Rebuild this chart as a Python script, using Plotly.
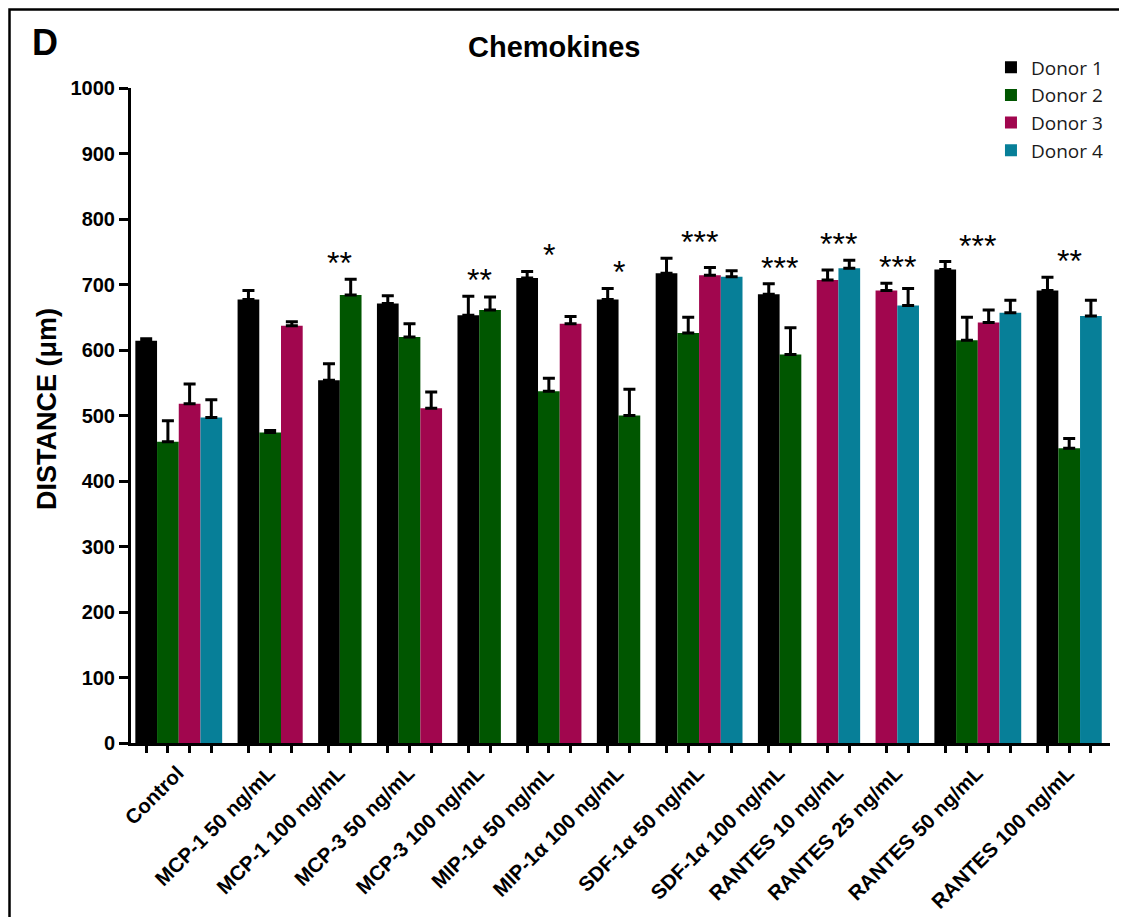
import plotly.graph_objects as go

# ---------------- data ----------------
categories = ["Control", "MCP-1 50 ng/mL", "MCP-1 100 ng/mL", "MCP-3 50 ng/mL",
              "MCP-3 100 ng/mL", "MIP-1α 50 ng/mL", "MIP-1α 100 ng/mL",
              "SDF-1α 50 ng/mL", "SDF-1α 100 ng/mL", "RANTES 10 ng/mL",
              "RANTES 25 ng/mL", "RANTES 50 ng/mL", "RANTES 100 ng/mL"]
donor_names = ["Donor 1", "Donor 2", "Donor 3", "Donor 4"]

donor1 = [614, 677, 554, 671, 653, 710, 677, 717, 685, None, None, 723, 691]
donor1_err = [3, 14, 25, 12, 29, 10, 17, 23, 16, None, None, 12, 20]
donor2 = [460, 474, 684, 620, 661, 537, 500, 626, 593, None, None, 615, 450]
donor2_err = [32, 3, 24, 20, 20, 20, 40, 24, 41, None, None, 35, 15]
donor3 = [518, 637, None, 511, None, 640, None, 714, None, 707, 691, 642, None]
donor3_err = [30, 6, None, 25, None, 11, None, 12, None, 15, 11, 19, None]
donor4 = [497, None, None, None, None, None, None, 712, None, 725, 668, 657, 652]
donor4_err = [27, None, None, None, None, None, None, 9, None, 12, 26, 19, 24]
significance = ["", "", "**", "", "**", "*", "*", "***", "***", "***", "***", "***", "**"]

y_ticks = [0, 100, 200, 300, 400, 500, 600, 700, 800, 900, 1000]

# ---------------- styling ----------------
colors = ["#000000", "#005600", "#A1064E", "#077F98"]
FONT = "Arial, Liberation Sans, sans-serif"
BAR_W = 1.0
GAP = 0.71

values = [donor1, donor2, donor3, donor4]
errors = [donor1_err, donor2_err, donor3_err, donor4_err]

# positions of bars (Prism-style: missing donors are skipped, groups separated by a gap)
pos = [[None] * len(categories) for _ in values]
group_centers = []
group_tops = []
cursor = 0.0
for g in range(len(categories)):
    xs = []
    tops = []
    for d in range(len(values)):
        v = values[d][g]
        if v is None:
            continue
        pos[d][g] = cursor + BAR_W / 2
        xs.append(cursor + BAR_W / 2)
        tops.append(v + (errors[d][g] or 0))
        cursor += BAR_W
    group_centers.append(sum(xs) / len(xs))
    group_tops.append(max(tops))
    cursor += GAP
end = cursor - GAP

fig = go.Figure()
all_bar_x = []
for d in range(len(values)):
    xs = [pos[d][g] for g in range(len(categories)) if values[d][g] is not None]
    ys = [values[d][g] for g in range(len(categories)) if values[d][g] is not None]
    es = [errors[d][g] for g in range(len(categories)) if values[d][g] is not None]
    all_bar_x += xs
    fig.add_trace(go.Bar(
        x=xs, y=ys, width=BAR_W, name=donor_names[d],
        marker=dict(color=colors[d], line=dict(width=0)),
        error_y=dict(type="data", symmetric=False, array=es,
                     arrayminus=[0] * len(es), color="black",
                     thickness=3, width=6),
    ))

# invisible trace to carry the per-bar tick axis
fig.add_trace(go.Scatter(x=sorted(all_bar_x), y=[0] * len(all_bar_x), xaxis="x2",
                         mode="markers", marker=dict(opacity=0),
                         showlegend=False, hoverinfo="skip"))

xr = [-0.2, end + 0.38]

annotations = []
for g, s in enumerate(significance):
    if s:
        annotations.append(dict(x=group_centers[g], y=group_tops[g], xref="x", yref="y",
                                text=s, showarrow=False, yanchor="bottom", yshift=-4,
                                font=dict(family=FONT, size=32, color="black")))

annotations += [
    dict(x=-0.0858, y=0.51, xref="paper", yref="paper", text="DISTANCE (μm)",
         textangle=-90, showarrow=False, xanchor="center", yanchor="middle",
         font=dict(family=FONT, size=27, color="black", weight="bold")),
    dict(x=-0.103, y=1.07, xref="paper", yref="paper", text="D",
         showarrow=False, xanchor="left", yanchor="middle",
         font=dict(family=FONT, size=36, color="black", weight="bold")),
    dict(x=0.4317, y=1.0629, xref="paper", yref="paper", text="Chemokines",
         showarrow=False, xanchor="center", yanchor="middle",
         font=dict(family=FONT, size=29, color="black", weight="bold")),
]

fig.update_layout(
    width=1127, height=917,
    margin=dict(l=123, r=25, t=80, b=182, autoexpand=False),
    paper_bgcolor="white", plot_bgcolor="white",
    barmode="overlay",
    showlegend=True,
    legend=dict(x=0.8722, y=0.956, xref="container", yref="container",
                xanchor="left", yanchor="top",
                font=dict(family="Open Sans, sans-serif", size=19, color="#1a1a1a"),
                bgcolor="rgba(0,0,0,0)", tracegroupgap=0),
    xaxis=dict(range=xr, tickmode="array", tickvals=group_centers, ticktext=categories,
               tickangle=-45, ticks="", showline=True, linewidth=3, linecolor="black",
               showgrid=False, zeroline=False, ticklabelstandoff=7, ticklabelshift=-1,
               automargin=False,
               tickfont=dict(family=FONT, size=20.5, color="black", weight="bold")),
    xaxis2=dict(range=xr, overlaying="x", side="bottom", tickmode="array",
                tickvals=sorted(all_bar_x), ticks="outside", ticklen=9, tickwidth=2.5,
                tickcolor="black", showticklabels=False, showline=False,
                showgrid=False, zeroline=False, automargin=False),
    yaxis=dict(range=[0, 1000], tickmode="array", tickvals=y_ticks,
               ticks="outside", ticklen=9, tickwidth=3, tickcolor="black",
               showline=True, linewidth=3, linecolor="black",
               showgrid=False, zeroline=False, automargin=False,
               tickfont=dict(family=FONT, size=20, color="black", weight="bold")),
    annotations=annotations,
    shapes=[dict(type="rect", xref="paper", yref="paper", x0=-0.1241, x1=1.2,
                 y0=-0.5, y1=1.1198, line=dict(color="black", width=2.5),
                 fillcolor="rgba(0,0,0,0)", layer="above")],
)

fig.write_html("out.html")
